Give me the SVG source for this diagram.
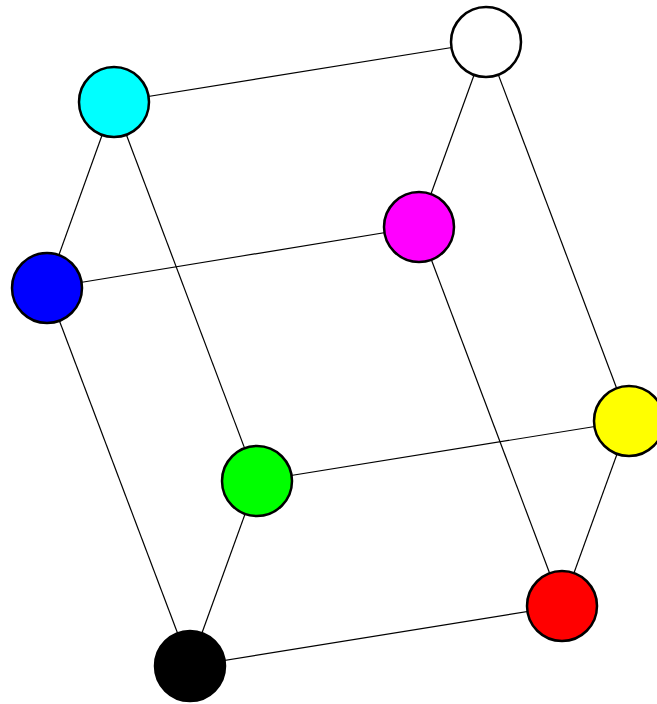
<svg xmlns="http://www.w3.org/2000/svg" width="657" height="704" viewBox="0 0 657 704">
<style>
.e{stroke:#000;stroke-width:1.2;fill:none}
.n{stroke:#000;stroke-width:2.5}
</style>
<rect width="657" height="704" fill="#fff"/>
<g id="connectors" class="e">
<line x1="114" y1="102" x2="486" y2="42"/>
<line x1="114" y1="102" x2="47" y2="288"/>
<line x1="114" y1="102" x2="257" y2="481"/>
<line x1="486" y1="42" x2="419" y2="227"/>
<line x1="486" y1="42" x2="629" y2="421"/>
<line x1="419" y1="227" x2="47" y2="288"/>
<line x1="419" y1="227" x2="562" y2="606"/>
<line x1="47" y1="288" x2="190" y2="666"/>
<line x1="257" y1="481" x2="629" y2="421"/>
<line x1="257" y1="481" x2="190" y2="666"/>
<line x1="629" y1="421" x2="562" y2="606"/>
<line x1="562" y1="606" x2="190" y2="666"/>
</g>
<g id="white"><circle class="n" cx="486" cy="42" r="35" fill="#fff"/></g>
<g id="cyan"><circle class="n" cx="114" cy="102" r="35" fill="#0ff"/></g>
<g id="magenta"><circle class="n" cx="419" cy="227" r="35" fill="#f0f"/></g>
<g id="blue"><circle class="n" cx="47" cy="288" r="35" fill="#00f"/></g>
<g id="yellow"><circle class="n" cx="629" cy="421" r="35" fill="#ff0"/></g>
<g id="green"><circle class="n" cx="257" cy="481" r="35" fill="#0f0"/></g>
<g id="red"><circle class="n" cx="562" cy="606" r="35" fill="#f00"/></g>
<g id="black"><circle class="n" cx="190" cy="666" r="35" fill="#000"/></g>
</svg>
